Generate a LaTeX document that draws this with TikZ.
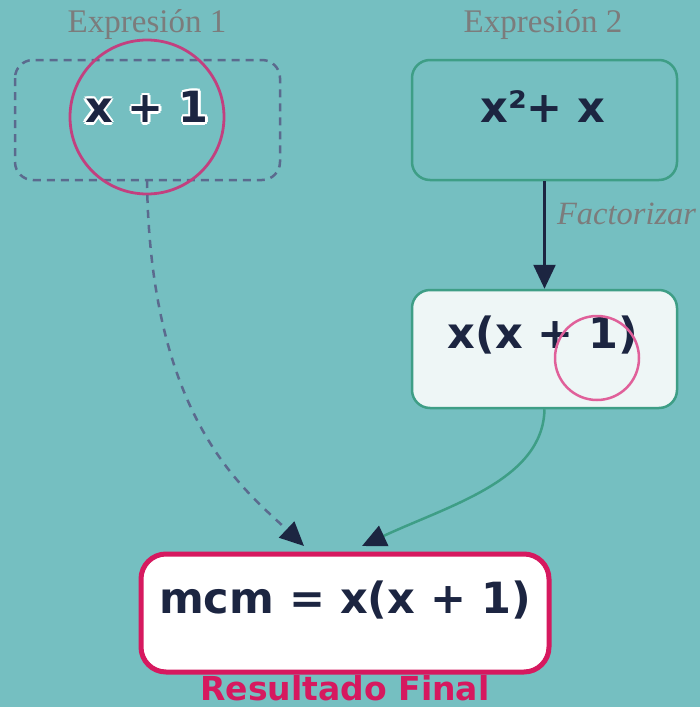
\documentclass[tikz,border=0pt]{standalone}
\usepackage{fontspec}
\setmainfont{Liberation Serif}
\newfontfamily\dejab{DejaVu Sans}
\usetikzlibrary{arrows.meta}
\definecolor{bgteal}{HTML}{75BFC1}
\definecolor{navy}{HTML}{1C2541}
\definecolor{greenb}{HTML}{3E9E86}
\definecolor{slate}{HTML}{5B6A8E}
\definecolor{capgray}{HTML}{7C7C7C}
\definecolor{magc}{HTML}{C2407F}
\definecolor{pinkc}{HTML}{E0609A}
\definecolor{crimson}{HTML}{D6195F}
\definecolor{lightf}{HTML}{EEF6F6}
\begin{document}
\begin{tikzpicture}[x=1pt,y=-1pt,
  caption/.style={text=capgray,font=\fontsize{33}{37}\selectfont},
  mathtxt/.style={text=navy,font=\fontsize{43}{49}\selectfont\dejab\bfseries},
  boxg/.style={draw=greenb,line width=2.5pt,rounded corners=18pt},
  tip/.style={-{Triangle[length=24pt,width=22pt,color=navy,fill=navy]}},
]
\fill[bgteal] (0,0) rectangle (700,707);
\useasboundingbox (0,0) rectangle (700,707);

% Expression 1
\node[caption] (e1label) at (147,25) {Expresión 1};
\draw[slate,line width=2.5pt,dash pattern=on 8pt off 6pt,rounded corners=18pt] (15,60) rectangle (280,180);
\coordinate (b1bot) at (147,180);
\foreach \dx/\dy in {2.5/0,-2.5/0,0/2.5,0/-2.5,1.8/1.8,-1.8/1.8,1.8/-1.8,-1.8/-1.8}
  \node[mathtxt,text=white] at (147+\dx,107+\dy) {x + 1};
\node[mathtxt] (x1) at (147,107) {x + 1};
\draw[magc,line width=2.8pt] (147,117) circle (77);

% Expression 2
\node[caption] (e2label) at (543,25) {Expresión 2};
\node[boxg,minimum width=265pt,minimum height=120pt] (box2) at (544.5,120) {};
\node[mathtxt] (t2) at (543,107) {x²+ x};

\node[boxg,fill=lightf,minimum width=265pt,minimum height=118pt] (box3) at (544.5,349) {};
\node[mathtxt] (t3) at (543,335) {x(x + 1)};
\draw[pinkc,line width=2.5pt] (597,358) circle (42);

\draw[tip,navy,line width=2.5pt] (box2.south) -- (box3.north)
  node[pos=0.3,right=8pt,caption,font=\fontsize{32.5}{36}\selectfont\itshape] (fact) {Factorizar};

% Result
\node[draw=crimson,line width=5pt,rounded corners=25pt,fill=white,minimum width=408pt,minimum height=118pt] (res) at (345,613) {};
\node[mathtxt] (tres) at (345,600) {mcm = x(x + 1)};
\node[text=crimson,font=\fontsize{33}{36}\selectfont\dejab\bfseries,inner sep=0pt,anchor=base] (reslabel) at (345,700) {Resultado Final};

\coordinate (r1) at (304,546);
\coordinate (r2) at (362,546);
\draw[slate,line width=2.5pt,dash pattern=on 8pt off 7pt,tip] (b1bot) .. controls (150,420) and (245,490) .. (r1);
\draw[greenb,line width=2.5pt,tip] (box3.south) .. controls (543,480) and (450,505) .. (r2);
\end{tikzpicture}
\end{document}
